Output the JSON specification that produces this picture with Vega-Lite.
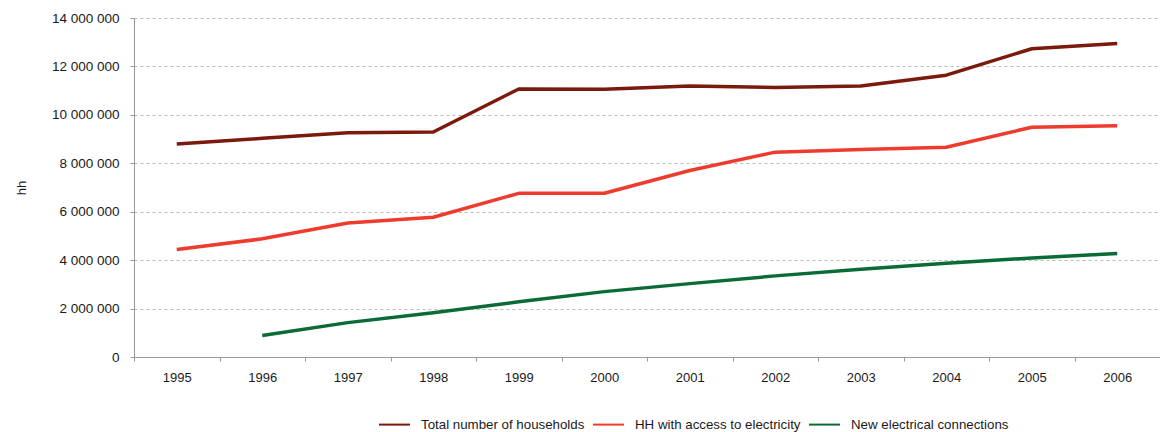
{
  "$schema": "https://vega.github.io/schema/vega-lite/v6.json",
  "width": 1026,
  "height": 339,
  "autosize": {"type": "none"},
  "padding": {"left": 134, "top": 18, "right": 0, "bottom": 75},
  "background": "white",
  "config": {
    "font": "Liberation Sans",
    "view": {"stroke": null}
  },
  "data": {
    "values": [
      {"year": "1995", "series": "Total number of households", "value": 8800000},
      {"year": "1996", "series": "Total number of households", "value": 9030000},
      {"year": "1997", "series": "Total number of households", "value": 9260000},
      {"year": "1998", "series": "Total number of households", "value": 9290000},
      {"year": "1999", "series": "Total number of households", "value": 11070000},
      {"year": "2000", "series": "Total number of households", "value": 11060000},
      {"year": "2001", "series": "Total number of households", "value": 11190000},
      {"year": "2002", "series": "Total number of households", "value": 11130000},
      {"year": "2003", "series": "Total number of households", "value": 11190000},
      {"year": "2004", "series": "Total number of households", "value": 11640000},
      {"year": "2005", "series": "Total number of households", "value": 12730000},
      {"year": "2006", "series": "Total number of households", "value": 12950000},
      {"year": "1995", "series": "HH with access to electricity", "value": 4440000},
      {"year": "1996", "series": "HH with access to electricity", "value": 4880000},
      {"year": "1997", "series": "HH with access to electricity", "value": 5530000},
      {"year": "1998", "series": "HH with access to electricity", "value": 5770000},
      {"year": "1999", "series": "HH with access to electricity", "value": 6760000},
      {"year": "2000", "series": "HH with access to electricity", "value": 6760000},
      {"year": "2001", "series": "HH with access to electricity", "value": 7700000},
      {"year": "2002", "series": "HH with access to electricity", "value": 8460000},
      {"year": "2003", "series": "HH with access to electricity", "value": 8570000},
      {"year": "2004", "series": "HH with access to electricity", "value": 8660000},
      {"year": "2005", "series": "HH with access to electricity", "value": 9490000},
      {"year": "2006", "series": "HH with access to electricity", "value": 9550000},
      {"year": "1996", "series": "New electrical connections", "value": 890000},
      {"year": "1997", "series": "New electrical connections", "value": 1420000},
      {"year": "1998", "series": "New electrical connections", "value": 1830000},
      {"year": "1999", "series": "New electrical connections", "value": 2280000},
      {"year": "2000", "series": "New electrical connections", "value": 2700000},
      {"year": "2001", "series": "New electrical connections", "value": 3030000},
      {"year": "2002", "series": "New electrical connections", "value": 3350000},
      {"year": "2003", "series": "New electrical connections", "value": 3620000},
      {"year": "2004", "series": "New electrical connections", "value": 3870000},
      {"year": "2005", "series": "New electrical connections", "value": 4090000},
      {"year": "2006", "series": "New electrical connections", "value": 4270000}
    ]
  },
  "mark": {"type": "line", "strokeWidth": 3.5, "strokeCap": "butt", "strokeJoin": "round"},
  "encoding": {
    "x": {
      "field": "year",
      "type": "ordinal",
      "scale": {"type": "band", "paddingInner": 0, "paddingOuter": 0},
      "axis": {
        "title": null,
        "labelAngle": 0,
        "labelFontSize": 13,
        "labelColor": "#1a1a1a",
        "labelPadding": 10,
        "tickBand": "extent",
        "tickSize": 4,
        "tickColor": "#999999",
        "domainColor": "#999999",
        "grid": false
      }
    },
    "y": {
      "field": "value",
      "type": "quantitative",
      "scale": {"domain": [0, 14000000], "nice": false},
      "axis": {
        "title": "hh",
        "titleFontSize": 13,
        "titleFontWeight": "normal",
        "titleColor": "#1a1a1a",
        "titlePadding": 23,
        "values": [0, 2000000, 4000000, 6000000, 8000000, 10000000, 12000000, 14000000],
        "labelExpr": "replace(replace(format(datum.value, ','), ',', ' '), ',', ' ')",
        "labelFontSize": 13.5,
        "labelColor": "#1a1a1a",
        "labelPadding": 11,
        "tickSize": 4,
        "tickColor": "#999999",
        "domainColor": "#999999",
        "grid": true,
        "gridColor": "#bbbbbb",
        "gridDash": [3, 3],
        "gridWidth": 1
      }
    },
    "color": {
      "field": "series",
      "type": "nominal",
      "sort": ["Total number of households", "HH with access to electricity", "New electrical connections"],
      "scale": {
        "domain": ["Total number of households", "HH with access to electricity", "New electrical connections"],
        "range": ["#7a1a0c", "#ef3b2e", "#0b6b36"]
      },
      "legend": {
        "title": null,
        "orient": "none",
        "direction": "horizontal",
        "legendX": 244,
        "legendY": 390,
        "symbolType": "stroke",
        "symbolSize": 961,
        "symbolStrokeWidth": 2,
        "labelFontSize": 13.3,
        "labelLimit": 300,
        "labelColor": "#1a1a1a",
        "labelOffset": 10,
        "columnPadding": 4
      }
    }
  }
}
